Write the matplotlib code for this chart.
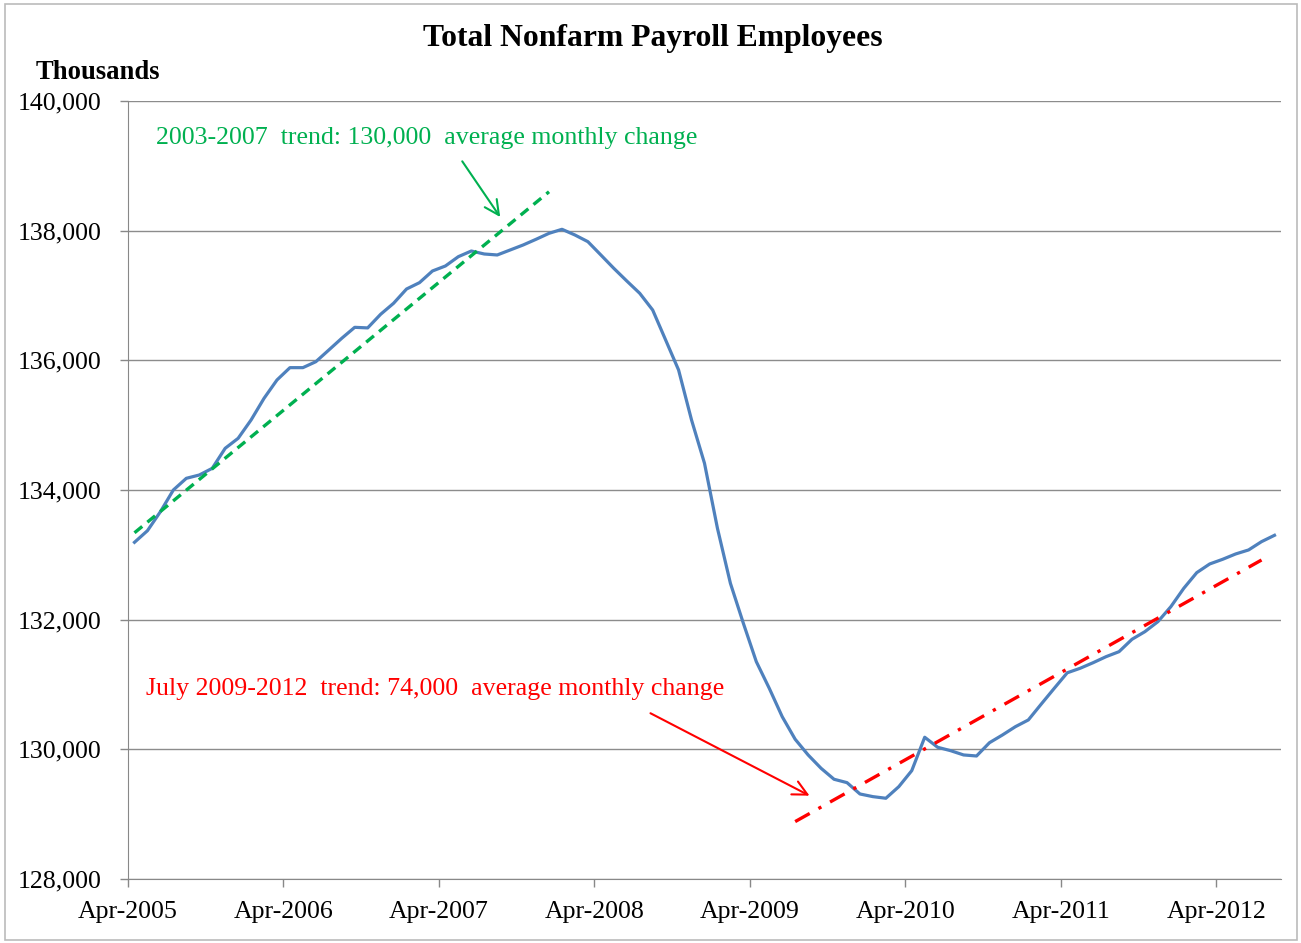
import numpy as np
import matplotlib.pyplot as plt
from matplotlib.patches import Rectangle

plt.rcParams['font.family'] = ['Liberation Serif', 'DejaVu Serif']

# total nonfarm payroll, thousands, Apr-2005 .. Aug-2012 (monthly)
payroll = [133193, 133372, 133665, 134000, 134180, 134231, 134334, 134643, 134797, 135080,
           135414, 135697, 135887, 135887, 135979, 136159, 136340, 136509, 136500, 136710,
           136880, 137100, 137198, 137378, 137455, 137599, 137686, 137640, 137625, 137702,
           137779, 137867, 137959, 138021, 137933, 137830, 137625, 137419, 137224, 137034,
           136776, 136314, 135851, 135080, 134412, 133409, 132561, 131944, 131352, 130941,
           130503, 130155, 129913, 129707, 129538, 129486, 129311, 129270, 129245, 129424,
           129671, 130186, 130031, 129979, 129913, 129897, 130102, 130221, 130349, 130453,
           130699, 130941, 131180, 131250, 131336, 131429, 131506, 131697, 131815, 131969,
           132200, 132484, 132725, 132859, 132931, 133013, 133075, 133203, 133301]
tick_labels = ['Apr-2005', 'Apr-2006', 'Apr-2007', 'Apr-2008',
               'Apr-2009', 'Apr-2010', 'Apr-2011', 'Apr-2012']

# trend lines (month index, value at ends)
green_x = [0, 32]
green_y = [133340, 138600]
red_x = [51, 87]
red_y = [128885, 132920]

months = np.arange(len(payroll))

fig = plt.figure(figsize=(13.01, 9.43), dpi=100)
ax = fig.add_axes([0.0984, 0.0679, 0.8862, 0.825])

ax.plot(months, payroll, color='#4F81BD', lw=2.3, zorder=3)
ax.plot(green_x, green_y, color='#00B050', lw=2.4, ls=(0, (3, 2)), zorder=4)
ax.plot(red_x, red_y, color='#FF0000', lw=2.4, ls=(0, (5, 3, 1, 3)), zorder=4)

ax.set_xlim(-0.5, len(payroll) - 0.5)
ax.set_ylim(128000, 140000)
ax.set_yticks(np.arange(128000, 140001, 2000))
ax.yaxis.set_major_formatter(plt.FuncFormatter(lambda v, p: f'{int(v):,}'))
ax.set_xticks(np.arange(len(tick_labels)) * 12 - 0.5)
ax.set_xticklabels(tick_labels)
ax.tick_params(axis='both', labelsize=18.6, colors='#888888', labelcolor='black', length=6, width=1)
ax.tick_params(axis='x', pad=10)
ax.tick_params(axis='y', pad=13)
ax.grid(axis='y', color='#8c8c8c', lw=1)
ax.set_axisbelow(True)
for s in ['top', 'right']:
    ax.spines[s].set_visible(False)
for s in ['left', 'bottom']:
    ax.spines[s].set_color('#888888')

ax.text(1.66, 139430, '2003-2007  trend: 130,000  average monthly change',
        color='#00B050', fontsize=18.6, va='center', ha='left')
ax.annotate('', xy=(28.35, 138175), xytext=(25.18, 139105),
            arrowprops=dict(arrowstyle='->', color='#00B050', lw=1.5, mutation_scale=26))
ax.text(0.89, 130930, 'July 2009-2012  trend: 74,000  average monthly change',
        color='#FF0000', fontsize=18.6, va='center', ha='left')
ax.annotate('', xy=(52.3, 129265), xytext=(39.64, 130576),
            arrowprops=dict(arrowstyle='->', color='#FF0000', lw=1.5, mutation_scale=26))

fig.text(0.502, 0.959, 'Total Nonfarm Payroll Employees', ha='center', va='center',
         fontsize=22.8, fontweight='bold')
fig.text(0.027, 0.923, 'Thousands', ha='left', va='center', fontsize=19.2, fontweight='bold')

fig.patches.append(Rectangle((0.004, 0.003), 0.993, 0.993, transform=fig.transFigure,
                             fill=False, edgecolor='#bbbbbb', lw=1.2))

fig.savefig('out.png', dpi=100)
